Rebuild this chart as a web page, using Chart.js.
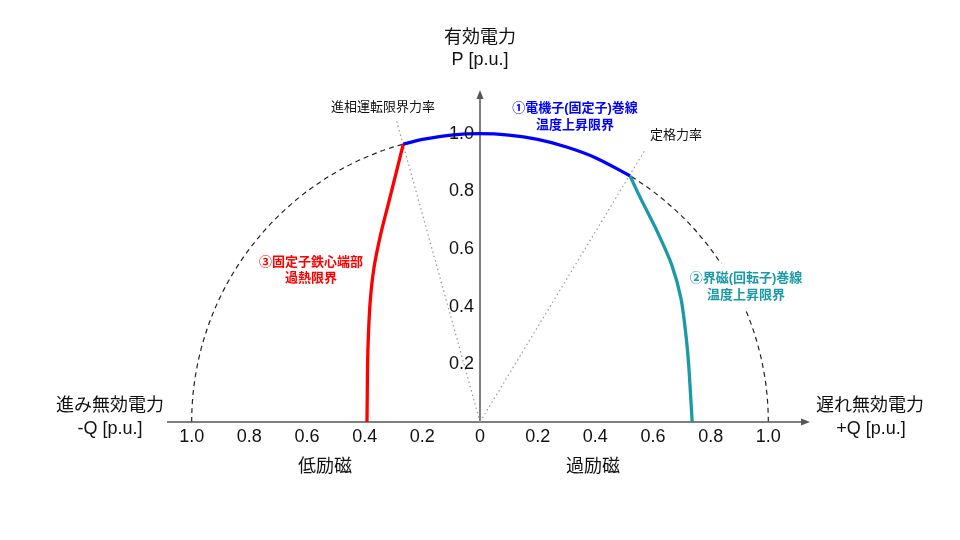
<!DOCTYPE html>
<html><head><meta charset="utf-8">
<script src="https://cdn.jsdelivr.net/npm/chart.js@4"></script>
<style>html,body{margin:0;padding:0;background:#fff}#wrap{width:960px;height:540px;position:relative}</style>
</head><body><div id="wrap"><canvas id="c"></canvas></div>
<script>
// ---- data ----
const xTickValues = [-1.0, -0.8, -0.6, -0.4, -0.2, 0, 0.2, 0.4, 0.6, 0.8, 1.0];
const xTickLabels = ['1.0', '0.8', '0.6', '0.4', '0.2', '0', '0.2', '0.4', '0.6', '0.8', '1.0'];
const yTickValues = [0.2, 0.4, 0.6, 0.8, 1.0];
const yTickLabels = ['0.2', '0.4', '0.6', '0.8', '1.0'];
const ratedRadius = 1.0;

// (1) armature winding temperature limit
const armatureQ = [-0.266, -0.2, -0.1, 0, 0.1, 0.2, 0.3, 0.4, 0.52];
const armatureP = [0.964, 0.98, 0.995, 1.0, 0.995, 0.98, 0.954, 0.917, 0.854];
// (2) field winding temperature limit
const fieldQ = [0.52, 0.557, 0.615, 0.665, 0.697, 0.713, 0.723, 0.730, 0.736];
const fieldP = [0.854, 0.776, 0.660, 0.545, 0.429, 0.313, 0.209, 0.1, 0];
// (3) stator core end heating limit
const coreQ = [-0.266, -0.287, -0.316, -0.345, -0.368, -0.381, -0.387, -0.390, -0.391, -0.392];
const coreP = [0.964, 0.88, 0.764, 0.649, 0.533, 0.417, 0.302, 0.2, 0.1, 0];
// power factor lines
const leadingPfQ = [0, -0.291];
const leadingPfP = [0, 1.05];
const ratedPfQ = [0, 0.572];
const ratedPfP = [0, 0.943];

const pts = (qs, ps) => qs.map((q, i) => ({x: q, y: ps[i]}));

const FONT = '"Liberation Sans", Arial, "Noto Sans CJK JP", sans-serif';
const BLUE = '#0000ff', RED = '#ff0000', TEAL = '#1a9aa6';

const drawPlugin = {
  id: 'decor',
  beforeDatasetsDraw(chart) {
    const ctx = chart.ctx, xs = chart.scales.x, ys = chart.scales.y, ca = chart.chartArea;
    const x0 = xs.getPixelForValue(0), y0 = ys.getPixelForValue(0);
    const r = xs.getPixelForValue(ratedRadius) - x0;
    ctx.save();
    // dashed rated circle
    ctx.strokeStyle = '#222'; ctx.lineWidth = 1.2; ctx.setLineDash([5, 4]);
    ctx.beginPath(); ctx.arc(x0, y0, r, Math.PI, 2 * Math.PI); ctx.stroke();
    ctx.setLineDash([]);
    // axes
    ctx.strokeStyle = '#555'; ctx.fillStyle = '#555'; ctx.lineWidth = 1.5;
    ctx.beginPath(); ctx.moveTo(ca.left, y0); ctx.lineTo(ca.right - 6, y0); ctx.stroke();
    ctx.beginPath(); ctx.moveTo(ca.right, y0); ctx.lineTo(ca.right - 9, y0 - 3.5); ctx.lineTo(ca.right - 9, y0 + 3.5); ctx.closePath(); ctx.fill();
    ctx.beginPath(); ctx.moveTo(x0, y0); ctx.lineTo(x0, ca.top + 6); ctx.stroke();
    ctx.beginPath(); ctx.moveTo(x0, ca.top); ctx.lineTo(x0 - 3.5, ca.top + 9); ctx.lineTo(x0 + 3.5, ca.top + 9); ctx.closePath(); ctx.fill();
    ctx.restore();
  },
  afterDatasetsDraw(chart) {
    const ctx = chart.ctx, xs = chart.scales.x, ys = chart.scales.y;
    const x0 = xs.getPixelForValue(0), y0 = ys.getPixelForValue(0);
    ctx.save();
    ctx.fillStyle = '#111';
    ctx.font = '18px ' + FONT;
    ctx.textBaseline = 'middle';
    // tick labels
    ctx.textAlign = 'center';
    xTickValues.forEach((v, i) => ctx.fillText(xTickLabels[i], xs.getPixelForValue(v), y0 + 15));
    ctx.textAlign = 'right';
    yTickValues.forEach((v, i) => ctx.fillText(yTickLabels[i], x0 - 6, ys.getPixelForValue(v)));
    // axis titles
    ctx.textAlign = 'center';
    ctx.fillText('有効電力', 480, 38);
    ctx.fillText('P [p.u.]', 480, 60);
    ctx.fillText('進み無効電力', 110, 406);
    ctx.fillText('-Q [p.u.]', 110, 429);
    ctx.fillText('遅れ無効電力', 870, 406);
    ctx.fillText('+Q [p.u.]', 871, 429);
    ctx.fillText('低励磁', 325, 467);
    ctx.fillText('過励磁', 593, 467);
    // small annotations
    ctx.font = '13px ' + FONT;
    ctx.fillText('進相運転限界力率', 383, 107);
    ctx.fillText('定格力率', 676, 135);
    // limit labels
    ctx.font = 'bold 13px ' + FONT;
    ctx.fillStyle = BLUE;
    ctx.fillText('①電機子(固定子)巻線', 575, 108);
    ctx.fillText('温度上昇限界', 575, 125);
    ctx.fillStyle = RED;
    ctx.fillText('③固定子鉄心端部', 311, 262);
    ctx.fillText('過熱限界', 311, 278);
    ctx.fillStyle = '#fff';
    ctx.fillRect(688, 264, 118, 46);
    ctx.fillStyle = TEAL;
    ctx.fillText('②界磁(回転子)巻線', 746, 278);
    ctx.fillText('温度上昇限界', 746, 295);
    ctx.restore();
  }
};

const PX = 288.3;
new Chart(document.getElementById('c'), {
  type: 'scatter',
  data: {
    datasets: [
      {label: 'armature', data: pts(armatureQ, armatureP), showLine: true, borderColor: BLUE, borderWidth: 3.3, tension: 0.4, order: 0},
      {label: 'field', data: pts(fieldQ, fieldP), showLine: true, borderColor: TEAL, borderWidth: 3.3, tension: 0.3, order: 0},
      {label: 'core', data: pts(coreQ, coreP), showLine: true, borderColor: RED, borderWidth: 3.3, tension: 0.3, order: 0},
      {label: 'leadingPF', data: pts(leadingPfQ, leadingPfP), showLine: true, borderColor: '#999', borderWidth: 1.2, borderDash: [1.5, 3], order: 2},
      {label: 'ratedPF', data: pts(ratedPfQ, ratedPfP), showLine: true, borderColor: '#999', borderWidth: 1.2, borderDash: [1.5, 3], order: 2}
    ]
  },
  options: {
    animation: false,
    responsive: true,
    maintainAspectRatio: false,
    layout: {padding: {left: 167, right: 150, top: 90, bottom: 118}},
    elements: {point: {radius: 0, hoverRadius: 0}},
    scales: {
      x: {type: 'linear', min: -313 / PX, max: 330 / PX, display: false},
      y: {type: 'linear', min: 0, max: 332 / PX, display: false}
    },
    plugins: {legend: {display: false}, tooltip: {enabled: false}}
  },
  plugins: [drawPlugin]
});
</script>
</body></html>
